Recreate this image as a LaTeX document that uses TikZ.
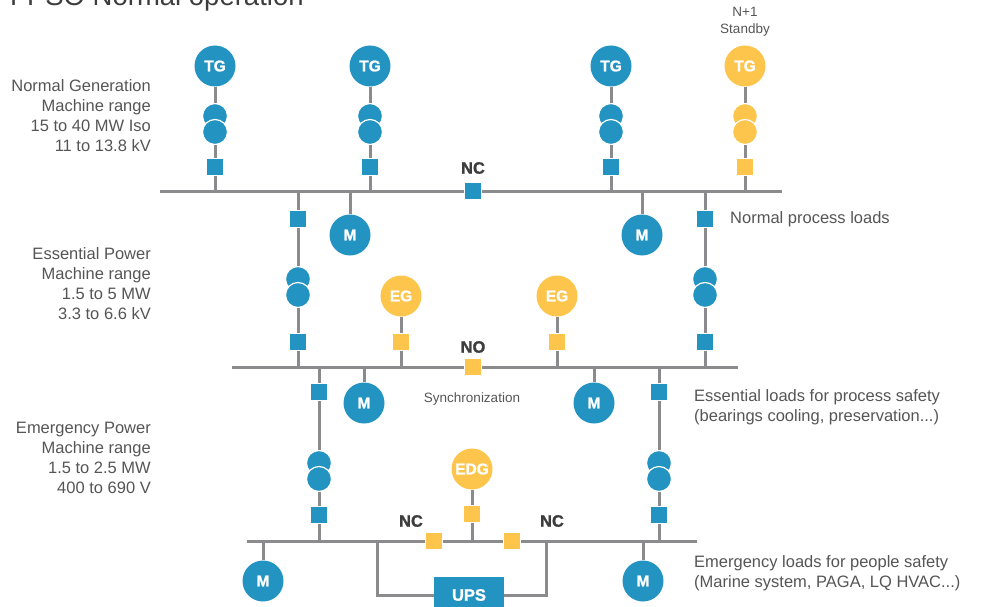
\documentclass[tikz,border=0pt]{standalone}
\usepackage{fontspec}
\setmainfont{Liberation Sans}
\newfontfamily\heavyfont[BoldFeatures={FakeBold=1.3}]{Liberation Sans}
\usetikzlibrary{calc}
\definecolor{gblue}{HTML}{2394C1}
\definecolor{gyell}{HTML}{FDC54B}
\definecolor{wiregrey}{HTML}{8B8B8D}
\definecolor{txtgrey}{HTML}{555555}
\definecolor{lblgrey}{HTML}{3D3D3D}
\tikzset{
  wire/.style={draw=wiregrey, line width=3pt},
  brk/.style={rectangle, fill=#1, draw=white, line width=0.6pt, minimum size=17.5pt, inner sep=0pt},
  mach/.style={circle, fill=#1, minimum size=41pt, inner sep=0pt, text=white, font=\heavyfont\bfseries\fontsize{15.5}{15.5}\selectfont},
  coil/.style={circle, fill=#1, draw=white, line width=1.2pt, minimum size=25pt, inner sep=0pt},
  note/.style={text=txtgrey, font=\fontsize{16.5}{20}\selectfont, inner sep=0pt},
  smallnote/.style={text=txtgrey, font=\fontsize{13.5}{16.6}\selectfont, inner sep=0pt},
  swlabel/.style={text=lblgrey, font=\heavyfont\bfseries\fontsize{16.5}{17}\selectfont, inner sep=0pt},
}
\newcommand{\brkr}[4]{\node[brk=#4] (#1) at (#2,#3) {};}
\newcommand{\machine}[5]{\node[mach=#5] (#1) at (#2,#3) {#4};}
\newcommand{\xfmr}[4]{\node[coil=#4] (#1a) at (#2,#3) {}; \node[coil=#4] (#1b) at (#2,#3+16) {};}

\begin{document}
\begin{tikzpicture}[x=1pt,y=-1pt]
\useasboundingbox (0,0) rectangle (982,607);
\node[anchor=base west, text=lblgrey, font=\fontsize{27.5}{30}\selectfont, inner sep=0pt] (title) at (10,5.5) {FPSO Normal operation};
% side texts
\node[note, anchor=north east, align=right] (lvl1) at (151,79) {Normal Generation\\Machine range\\15 to 40 MW Iso\\11 to 13.8 kV};
\node[note, anchor=north east, align=right] (lvl2) at (151,247.5) {Essential Power\\Machine range\\1.5 to 5 MW\\3.3 to 6.6 kV};
\node[note, anchor=north east, align=right] (lvl3) at (151,422) {Emergency Power\\Machine range\\1.5 to 2.5 MW\\400 to 690 V};
\node[note, anchor=west] (load1) at (730,219) {Normal process loads};
\node[note, anchor=north west, align=left] (load2) at (694,389) {Essential loads for process safety\\(bearings cooling, preservation...)};
\node[note, anchor=north west, align=left] (load3) at (694,555) {Emergency loads for people safety\\(Marine system, PAGA, LQ HVAC...)};
\node[smallnote, anchor=north, align=center] (stby) at (745,7) {N+1\\Standby};
\node[smallnote] (sync) at (472,399) {Synchronization};

% normal generation bus
\coordinate (b1w) at (160,191);
\coordinate (b1e) at (782,191);
\machine{g1}{215}{66}{TG}{gblue}
\machine{g2}{370}{66}{TG}{gblue}
\machine{g3}{611}{66}{TG}{gblue}
\machine{g4}{745}{66}{TG}{gyell}
\xfmr{t1}{215}{116}{gblue}
\xfmr{t2}{370}{116}{gblue}
\xfmr{t3}{611}{116}{gblue}
\xfmr{t4}{745}{116}{gyell}
\brkr{k1}{215}{167}{gblue}
\brkr{k2}{370}{167}{gblue}
\brkr{k3}{611}{167}{gblue}
\brkr{k4}{745}{167}{gyell}
\brkr{nc1}{473}{191}{gblue}
\node[swlabel] (nc1l) at (473,168) {NC};
\machine{m1}{350}{235}{M}{gblue}
\machine{m2}{642}{235}{M}{gblue}
\brkr{k5}{298}{219}{gblue}
\xfmr{t5}{298}{279}{gblue}
\brkr{k6}{298}{342}{gblue}
\brkr{k7}{705}{219}{gblue}
\xfmr{t7}{705}{279}{gblue}
\brkr{k8}{705}{342}{gblue}
\draw[wire] (b1w) -- (nc1) -- (b1e);
\draw[wire] (g1) -- (t1a) (t1b) -- (k1) -- (k1 |- b1w);
\draw[wire] (g2) -- (t2a) (t2b) -- (k2) -- (k2 |- b1w);
\draw[wire] (g3) -- (t3a) (t3b) -- (k3) -- (k3 |- b1w);
\draw[wire] (g4) -- (t4a) (t4b) -- (k4) -- (k4 |- b1w);
\draw[wire] (m1) -- (m1 |- b1w) (m2) -- (m2 |- b1w);

% essential bus
\coordinate (b2w) at (232,367);
\coordinate (b2e) at (738,367);
\machine{e1}{401}{296}{EG}{gyell}
\machine{e2}{557}{296}{EG}{gyell}
\brkr{ke1}{401}{342}{gyell}
\brkr{ke2}{557}{342}{gyell}
\brkr{no1}{473}{367}{gyell}
\node[swlabel] (no1l) at (473,347) {NO};
\machine{m3}{364}{403}{M}{gblue}
\machine{m4}{594}{403}{M}{gblue}
\brkr{k9}{319}{392}{gblue}
\xfmr{t9}{319}{463}{gblue}
\brkr{k10}{319}{515}{gblue}
\brkr{k11}{659}{392}{gblue}
\xfmr{t11}{659}{463}{gblue}
\brkr{k12}{659}{515}{gblue}
\draw[wire] (b2w) -- (no1) -- (b2e);
\draw[wire] (k5 |- b1w) -- (k5) -- (t5a) (t5b) -- (k6) -- (k6 |- b2w);
\draw[wire] (k7 |- b1w) -- (k7) -- (t7a) (t7b) -- (k8) -- (k8 |- b2w);
\draw[wire] (e1) -- (ke1) -- (ke1 |- b2w) (e2) -- (ke2) -- (ke2 |- b2w);
\draw[wire] (m3) -- (m3 |- b2w) (m4) -- (m4 |- b2w);

% emergency bus
\coordinate (b3w) at (247,541);
\coordinate (b3e) at (697,541);
\coordinate (tapL) at (377,541);
\coordinate (tapR) at (546,541);
\machine{edg}{472}{469}{EDG}{gyell}
\brkr{ke3}{472}{514}{gyell}
\brkr{nc2}{434}{541}{gyell}
\brkr{nc3}{512}{541}{gyell}
\node[swlabel] (nc2l) at (411,521) {NC};
\node[swlabel] (nc3l) at (552,521) {NC};
\machine{m5}{263}{581}{M}{gblue}
\machine{m6}{643}{581}{M}{gblue}
\node[rectangle, fill=gblue, minimum width=70pt, minimum height=36pt, inner sep=0pt, text=white, font=\heavyfont\bfseries\fontsize{16.5}{17}\selectfont] (ups) at (469,595) {UPS};
\draw[wire] (b3w) -- (nc2) -- (nc3) -- (b3e);
\draw[wire] (k9 |- b2w) -- (k9) -- (t9a) (t9b) -- (k10) -- (k10 |- b3w);
\draw[wire] (k11 |- b2w) -- (k11) -- (t11a) (t11b) -- (k12) -- (k12 |- b3w);
\draw[wire] (edg) -- (ke3) -- (ke3 |- b3w);
\draw[wire] (m5) -- (m5 |- b3w) (m6) -- (m6 |- b3w);
\draw[wire] (tapL) |- (ups) (tapR) |- (ups);
\end{tikzpicture}
\end{document}
